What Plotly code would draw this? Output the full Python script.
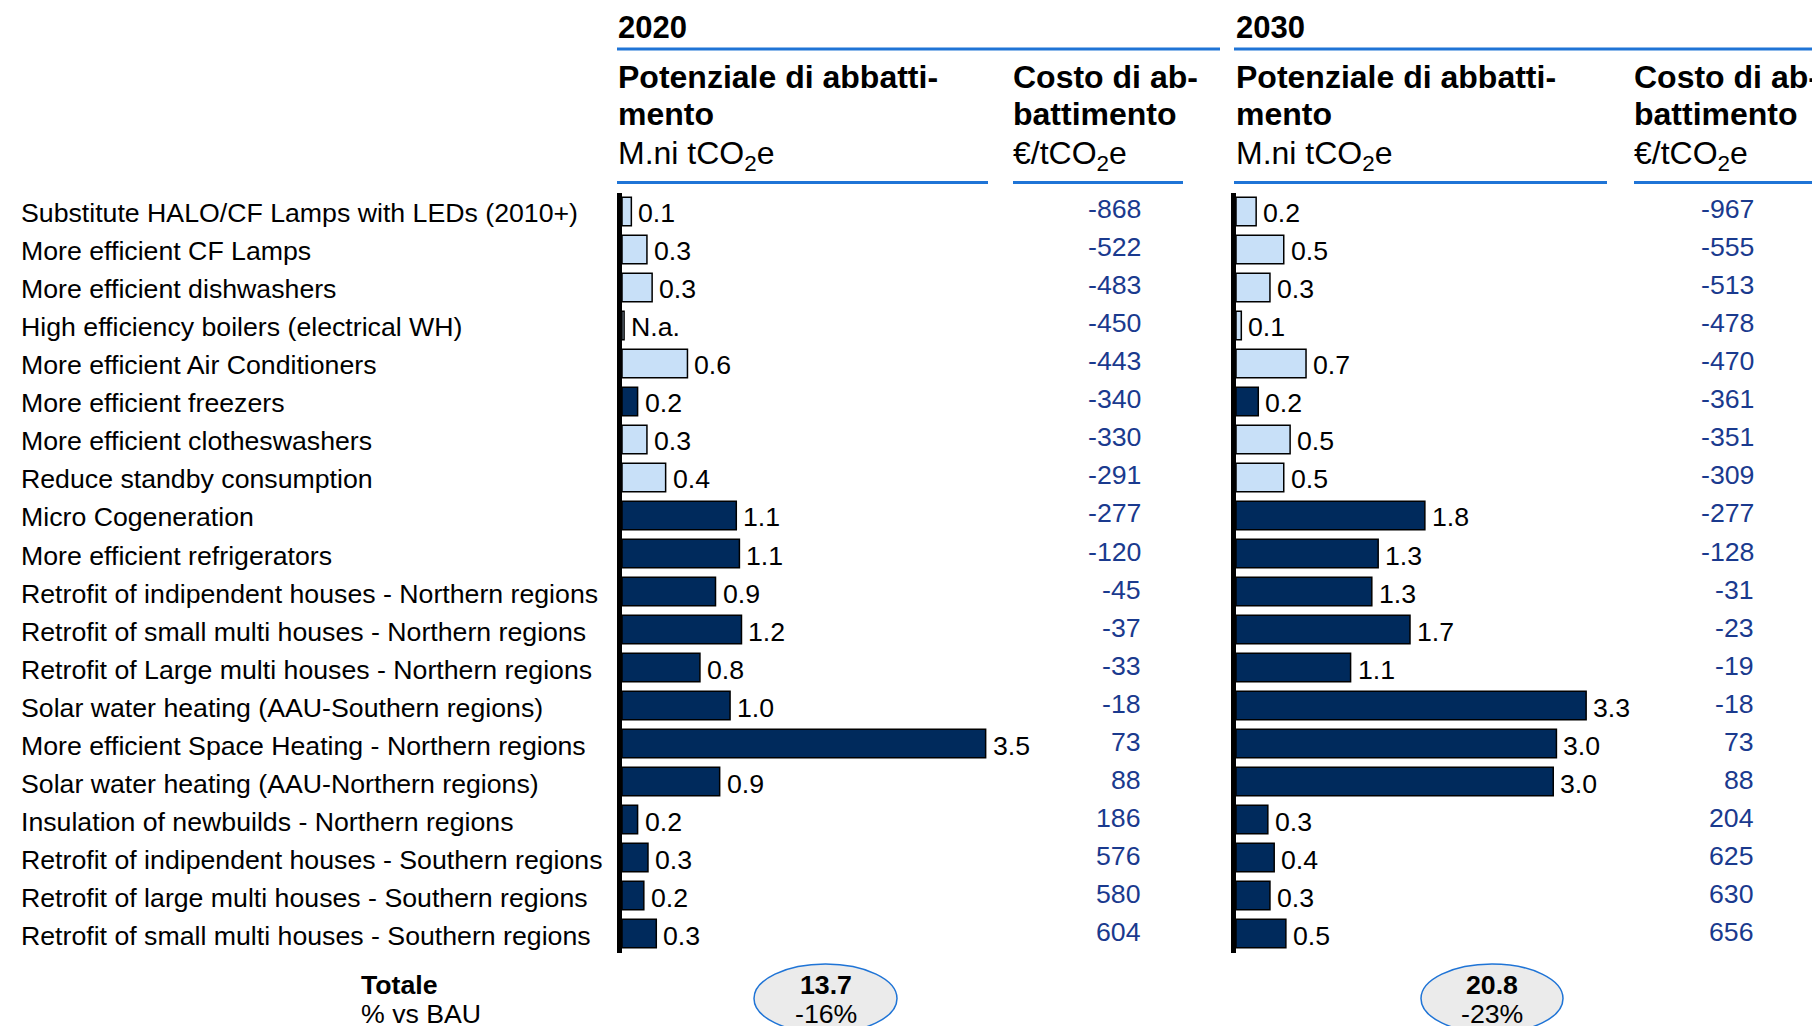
import plotly.graph_objects as go

W, H = 1820, 1026
OFF = 8  # default page body margin of the html page
FW, FH = W - OFF, H - OFF

categories = [
    "Substitute HALO/CF Lamps with LEDs (2010+)",
    "More efficient CF Lamps",
    "More efficient dishwashers",
    "High efficiency boilers (electrical WH)",
    "More efficient Air Conditioners",
    "More efficient freezers",
    "More efficient clotheswashers",
    "Reduce standby consumption",
    "Micro Cogeneration",
    "More efficient refrigerators",
    "Retrofit of indipendent houses - Northern regions",
    "Retrofit of small multi houses - Northern regions",
    "Retrofit of Large multi houses - Northern regions",
    "Solar water heating (AAU-Southern regions)",
    "More efficient Space Heating - Northern regions",
    "Solar water heating (AAU-Northern regions)",
    "Insulation of newbuilds - Northern regions",
    "Retrofit of indipendent houses - Southern regions",
    "Retrofit of large multi houses - Southern regions",
    "Retrofit of small multi houses - Southern regions",
]
# lever type: "light" or "dark" bar
lever_type = ["light", "light", "light", "light", "light", "dark", "light", "light",
              "dark", "dark", "dark", "dark", "dark", "dark", "dark", "dark",
              "dark", "dark", "dark", "dark"]

pot_2020 = [0.09, 0.24, 0.29, 0.02, 0.63, 0.15, 0.24, 0.42, 1.10, 1.13,
            0.90, 1.15, 0.75, 1.04, 3.50, 0.94, 0.15, 0.25, 0.21, 0.33]
label_2020 = ["0.1", "0.3", "0.3", "N.a.", "0.6", "0.2", "0.3", "0.4", "1.1", "1.1",
              "0.9", "1.2", "0.8", "1.0", "3.5", "0.9", "0.2", "0.3", "0.2", "0.3"]
cost_2020 = [-868, -522, -483, -450, -443, -340, -330, -291, -277, -120,
             -45, -37, -33, -18, 73, 88, 186, 576, 580, 604]

pot_2030 = [0.19, 0.45, 0.32, 0.05, 0.66, 0.21, 0.51, 0.45, 1.78, 1.34,
            1.28, 1.64, 1.08, 3.30, 3.02, 2.99, 0.30, 0.36, 0.32, 0.47]
label_2030 = ["0.2", "0.5", "0.3", "0.1", "0.7", "0.2", "0.5", "0.5", "1.8", "1.3",
              "1.3", "1.7", "1.1", "3.3", "3.0", "3.0", "0.3", "0.4", "0.3", "0.5"]
cost_2030 = [-967, -555, -513, -478, -470, -361, -351, -309, -277, -128,
             -31, -23, -19, -18, 73, 88, 204, 625, 630, 656]

years = ["2020", "2030"]
totals = ["13.7", "20.8"]
vs_bau = ["-16%", "-23%"]

header_pot = ["Potenziale di abbatti-", "mento", "M.ni tCO<sub>2</sub>e"]
header_cost = ["Costo di ab-", "battimento", "€/tCO<sub>2</sub>e"]

# ---------------- styling ----------------
FONT = "Arial, Liberation Sans, sans-serif"
DARK = "#002a5c"
LIGHT = "#c8e0f8"
COST_COL = "#1a3a8e"
LINE_BLUE = "#1f74d6"
colors = {"light": LIGHT, "dark": DARK}
FS = 26.7
HFS = 32

rows = list(range(len(categories)))

def px(x):
    return (x - OFF) / FW

def py(y):
    return 1 - (y - OFF) / FH

row_top, row_bot = 192.5, 952.5  # page-pixel extent of category band
ydom = [py(row_bot), py(row_top)]

panels = [
    dict(xa="x", ya="y", x0=622, x1=1000, ppu=103.9, pot=pot_2020, lab=label_2020,
         cost=cost_2020, cost_x=1143, head_x=616, cost_head_x=1011,
         line1=(617, 1220), line_pot=(617, 988), line_cost=(1013, 1183), ell=(754, 897)),
    dict(xa="x2", ya="y2", x0=1236, x1=1640, ppu=106.1, pot=pot_2030, lab=label_2030,
         cost=cost_2030, cost_x=1756, head_x=1234, cost_head_x=1632,
         line1=(1234, 1820), line_pot=(1234, 1607), line_cost=(1634, 1820), ell=(1421, 1563)),
]

fig = go.Figure()
annotations = []
shapes = []

for i, p in enumerate(panels):
    fig.add_trace(go.Bar(
        x=p["pot"], y=rows, orientation="h", xaxis=p["xa"], yaxis=p["ya"],
        width=0.75,
        marker=dict(color=[colors[t] for t in lever_type], line=dict(color="black", width=1.5)),
        showlegend=False, hoverinfo="skip",
    ))
    for r, (v, lab) in enumerate(zip(p["pot"], p["lab"])):
        annotations.append(dict(
            x=v, y=r, xref=p["xa"], yref=p["ya"], text=lab, showarrow=False,
            xanchor="left", yanchor="middle", xshift=5, yshift=-2,
            font=dict(family=FONT, size=FS, color="black"),
        ))
    for r, c in enumerate(p["cost"]):
        annotations.append(dict(
            x=px(p["cost_x"]), y=r, xref="paper", yref=p["ya"], text=str(c), showarrow=False,
            xanchor="right", yanchor="middle", yshift=2,
            font=dict(family=FONT, size=FS, color=COST_COL),
        ))
    # headers
    annotations.append(dict(x=px(p["head_x"]), y=py(28), xref="paper", yref="paper",
                            text="<b>%s</b>" % years[i], showarrow=False, xanchor="left",
                            yanchor="middle", font=dict(family=FONT, size=31, color="black")))
    for k, (txt, yy) in enumerate(zip(header_pot, [77, 114, 155])):
        annotations.append(dict(x=px(p["head_x"]), y=py(yy), xref="paper", yref="paper",
                                text=("<b>%s</b>" % txt) if k < 2 else txt, showarrow=False,
                                xanchor="left", yanchor="middle",
                                font=dict(family=FONT, size=HFS, color="black")))
    for k, (txt, yy) in enumerate(zip(header_cost, [77, 114, 155])):
        annotations.append(dict(x=px(p["cost_head_x"]), y=py(yy), xref="paper", yref="paper",
                                text=("<b>%s</b>" % txt) if k < 2 else txt, showarrow=False,
                                xanchor="left", yanchor="middle",
                                font=dict(family=FONT, size=HFS, color="black")))
    shapes.append(dict(type="line", xref="paper", yref="paper", x0=px(p["line1"][0]),
                       x1=px(p["line1"][1]), y0=py(49), y1=py(49),
                       line=dict(color=LINE_BLUE, width=3)))
    for seg in (p["line_pot"], p["line_cost"]):
        shapes.append(dict(type="line", xref="paper", yref="paper", x0=px(seg[0]),
                           x1=px(seg[1]), y0=py(182.5), y1=py(182.5),
                           line=dict(color=LINE_BLUE, width=3)))
    # totals ellipse
    e0, e1 = p["ell"]
    shapes.append(dict(type="circle", xref="paper", yref="paper", x0=px(e0), x1=px(e1),
                       y0=py(1033), y1=py(964), fillcolor="#ebebeb",
                       line=dict(color=LINE_BLUE, width=1.5), layer="below"))
    cx = (e0 + e1) / 2
    annotations.append(dict(x=px(cx), y=py(985), xref="paper", yref="paper",
                            text="<b>%s</b>" % totals[i], showarrow=False, xanchor="center",
                            yanchor="middle", font=dict(family=FONT, size=FS, color="black")))
    annotations.append(dict(x=px(cx), y=py(1014), xref="paper", yref="paper",
                            text=vs_bau[i], showarrow=False, xanchor="center",
                            yanchor="middle", font=dict(family=FONT, size=FS, color="black")))

for r, c in enumerate(categories):
    annotations.append(dict(x=px(19), y=r, xref="paper", yref="y", text=c, showarrow=False,
                            xanchor="left", yanchor="middle", yshift=-2,
                            font=dict(family=FONT, size=FS, color="black")))

annotations.append(dict(x=px(359), y=py(985), xref="paper", yref="paper", text="<b>Totale</b>",
                        showarrow=False, xanchor="left", yanchor="middle",
                        font=dict(family=FONT, size=FS, color="black")))
annotations.append(dict(x=px(359), y=py(1014), xref="paper", yref="paper", text="% vs BAU",
                        showarrow=False, xanchor="left", yanchor="middle",
                        font=dict(family=FONT, size=FS, color="black")))

axis_common = dict(showgrid=False, zeroline=False, showticklabels=False, ticks="", fixedrange=True)

p1, p2 = panels
fig.update_layout(
    width=FW, height=FH, margin=dict(l=0, r=0, t=0, b=0),
    paper_bgcolor="white", plot_bgcolor="white",
    barmode="overlay",
    font=dict(family=FONT),
    xaxis=dict(domain=[px(p1["x0"]), px(p1["x1"])], range=[0, (p1["x1"] - p1["x0"]) / p1["ppu"]],
               anchor="y", **axis_common),
    xaxis2=dict(domain=[px(p2["x0"]), px(p2["x1"])], range=[0, (p2["x1"] - p2["x0"]) / p2["ppu"]],
                anchor="y2", **axis_common),
    yaxis=dict(domain=ydom, range=[len(rows) - 0.5, -0.5], anchor="x", showline=True,
               linewidth=5, linecolor="black", **axis_common),
    yaxis2=dict(domain=ydom, range=[len(rows) - 0.5, -0.5], anchor="x2", showline=True,
                linewidth=5, linecolor="black", **axis_common),
    annotations=annotations, shapes=shapes,
)

fig.write_html("out.html")
